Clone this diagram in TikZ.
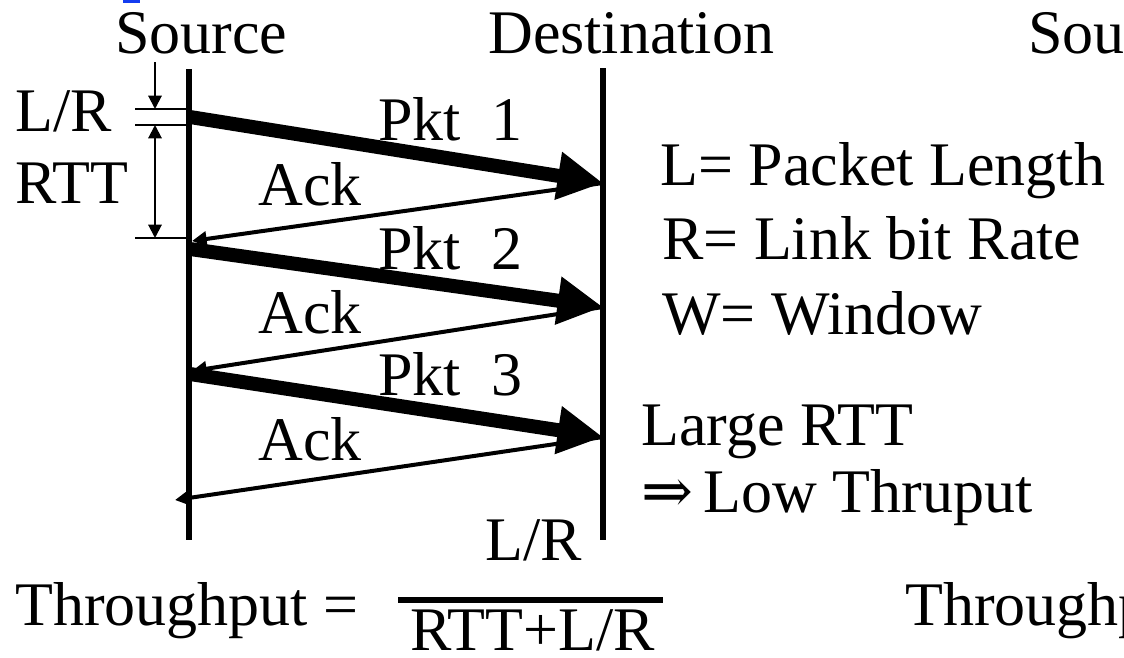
\documentclass[tikz,border=0pt]{standalone}
\usepackage{fontspec}
\setmainfont{Liberation Serif}
\newfontfamily\arrowfont{DejaVu Serif}
\usetikzlibrary{arrows.meta}
\definecolor{linkblue}{RGB}{20,60,240}
\begin{document}
\begin{tikzpicture}[x=0.75pt,y=-0.75pt,
  lbl/.style={anchor=base west, inner sep=0pt, font=\fontsize{46.5pt}{50pt}\selectfont},
  pkt/.style={line width=10.5pt, -{Triangle[length=34pt,width=34pt]}},
  ack/.style={line width=3pt, -{Triangle[length=11pt,width=11pt]}},
  timeline/.style={line width=4.5pt},
  tick/.style={line width=1.5pt},
  dimarrow/.style={line width=1.5pt, -{Triangle[length=10pt,width=10pt]}},
  dimboth/.style={line width=1.5pt, {Triangle[length=10pt,width=10pt]}-{Triangle[length=10pt,width=10pt]}},
]
\clip (0,0) rectangle (1124,657);
\fill[white] (0,0) rectangle (1124,657);
% small blue mark
\fill[linkblue] (123,0) rectangle (140,3);

% headers
\node[lbl] (hsrc) at (115,53) {Source};
\node[lbl] (hdst) at (488,53) {Destination};
\node[lbl] (hsou) at (1028,53) {Sou};

% time lines
\coordinate (srcTop) at (189,69);
\coordinate (srcBot) at (189,540);
\coordinate (dstTop) at (603,68);
\coordinate (dstBot) at (603,540);
\draw[timeline] (srcTop) -- (srcBot);
\draw[timeline] (dstTop) -- (dstBot);

% packet / ack endpoints
\coordinate (p1s) at (190,117);
\coordinate (p1e) at (603,183);
\coordinate (a1e) at (192,241);
\coordinate (p2s) at (190,249);
\coordinate (p2e) at (603,307);
\coordinate (a2e) at (192,371);
\coordinate (p3s) at (190,374);
\coordinate (p3e) at (603,437);
\coordinate (a3e) at (175,500);

\draw[ack] (p1e) -- (a1e);
\draw[ack] (p2e) -- (a2e);
\draw[ack] (p3e) -- (a3e);
\draw[pkt] (p1s) -- (p1e);
\draw[pkt] (p2s) -- (p2e);
\draw[pkt] (p3s) -- (p3e);

% L/R and RTT dimension marks
\coordinate (t1a) at (135,109); \coordinate (t1b) at (189,109);
\coordinate (t2a) at (135,125); \coordinate (t2b) at (189,125);
\coordinate (t3a) at (135,238); \coordinate (t3b) at (189,238);
\draw[tick] (t1a) -- (t1b);
\draw[tick] (t2a) -- (t2b);
\draw[tick] (t3a) -- (t3b);
\coordinate (d0) at (155,62);
\coordinate (d1) at (155,109);
\coordinate (d2) at (155,125);
\coordinate (d3) at (155,238);
\draw[dimarrow] (d0) -- (d1);
\draw[dimboth] (d2) -- (d3);

\node[lbl] (llr) at (15,131) {L/R};
\node[lbl] (lrtt) at (15,203) {RTT};

% packet labels
\node[lbl] (lp1) at (378,140) {Pkt\ \ 1};
\node[lbl] (lp2) at (378,269) {Pkt\ \ 2};
\node[lbl] (lp3) at (378,395) {Pkt\ \ 3};
\node[lbl] (la1) at (258,205) {Ack};
\node[lbl] (la2) at (258,333) {Ack};
\node[lbl] (la3) at (258,460) {Ack};

% legend
\node[lbl] (lL) at (660,185) {L= Packet Length};
\node[lbl] (lR) at (662,259) {R= Link bit Rate};
\node[lbl] (lW) at (662,334) {W= Window};
\node[lbl] (lLarge) at (641,445) {Large RTT};
\node[lbl] (lLow) at (641,512) {{\arrowfont ⇒}\,Low Thruput};

% throughput formula
\node[lbl] (thr) at (15,625) {Throughput =};
\node[lbl] (num) at (485,560) {L/R};
\coordinate (fb1) at (398,600);
\coordinate (fb2) at (663,600);
\draw[line width=4.5pt] (fb1) -- (fb2);
\node[lbl] (den) at (410,650) {RTT+L/R};
\node[lbl] (thr2) at (905,625) {Throughp};
\end{tikzpicture}
\end{document}
